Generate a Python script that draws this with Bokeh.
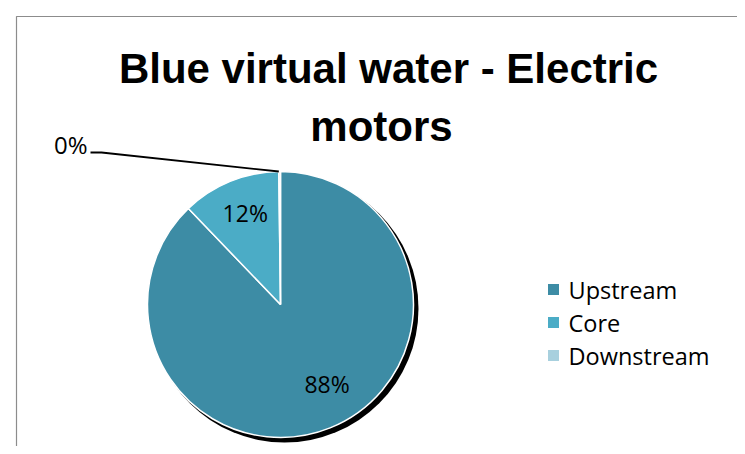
import numpy as np
from bokeh.plotting import figure
from bokeh.models import Range1d, ColumnDataSource
from bokeh.core.properties import value
from bokeh.embed import file_html
from bokeh.resources import INLINE

# ---- data ----
categories = ["Upstream", "Core", "Downstream"]
shares = [88.0, 12.0, 0.2]
colors = ["#3d8ca5", "#4bacc6", "#a8d0de"]
title_lines = ["Blue virtual water - Electric", "motors"]

# ---- layout constants (screen pixels) ----
CX, CY, R = 280, 304, 133
SHADOW = 5

W, H = 737, 446
p = figure(width=W, height=H, x_range=Range1d(0, 737), y_range=Range1d(-446, 0),
           output_backend="svg", toolbar_location=None,
           x_axis_location=None, y_axis_location=None, min_border=0)
p.outline_line_color = None
p.grid.visible = False
p.background_fill_color = "white"

# chart border (top and left visible)
p.line(x=[16, 16, 737], y=[-446, -16, -16], line_color="#8c8c8c", line_width=1.2)

vals = np.array(shares)
fr = vals / vals.sum()
cum = np.concatenate([[0], np.cumsum(fr)[:-1]])
start = np.pi / 2 - 2 * np.pi * cum
end = start - 2 * np.pi * fr
mid = (start + end) / 2
pct = [f"{int(round(f * 100))}%" for f in fr]

# shadow
p.circle(x=[CX + SHADOW - 1], y=[-(CY + SHADOW - 1)], radius=R + 1, fill_color="black", line_color=None)

src = ColumnDataSource(dict(start=start, end=end, color=colors, cat=categories))
p.wedge(x=CX, y=-CY, radius=R, start_angle="start", end_angle="end", direction="clock",
        fill_color="color", line_color="white", line_width=1.5, source=src)

# data labels inside slices
lab_r = [0.69 * R, 0.735 * R]
lab_rot = [0.15, -0.02]
lx = [CX + lab_r[i] * np.cos(mid[i] + lab_rot[i]) for i in range(2)]
ly = [-CY + lab_r[i] * np.sin(mid[i] + lab_rot[i]) for i in range(2)]
p.text(x=lx, y=ly, text=pct[:2], text_font=value("Open Sans"), text_font_size="23px",
       text_align="center", text_baseline="middle", text_color="black")

# outside label for the tiny slice with leader line
ex = CX + R * np.cos(start[2])
ey = -CY + R * np.sin(start[2])
p.line(x=[90, 101, ex], y=[-152, -152, ey], line_color="black", line_width=1.8)
p.text(x=[87], y=[-144], text=[pct[2]], text_font=value("Open Sans"), text_font_size="24px",
       text_align="right", text_baseline="middle", text_color="black")

# title
p.text(x=[388, 381], y=[-68, -126], text=title_lines, text_font=value("Liberation Sans"),
       text_font_style="bold", text_font_size="42px", text_align="center",
       text_baseline="middle", text_color="black")

# legend
ly0 = [289, 322, 355]
p.rect(x=[553] * 3, y=[-v for v in ly0], width=11, height=11, fill_color=colors, line_color=None)
p.text(x=[568] * 3, y=[-v for v in ly0], text=categories, text_font=value("Open Sans"),
       text_font_size="23.5px", text_align="left", text_baseline="middle", text_color="black")

open("out.html", "w").write(file_html(p, INLINE))
